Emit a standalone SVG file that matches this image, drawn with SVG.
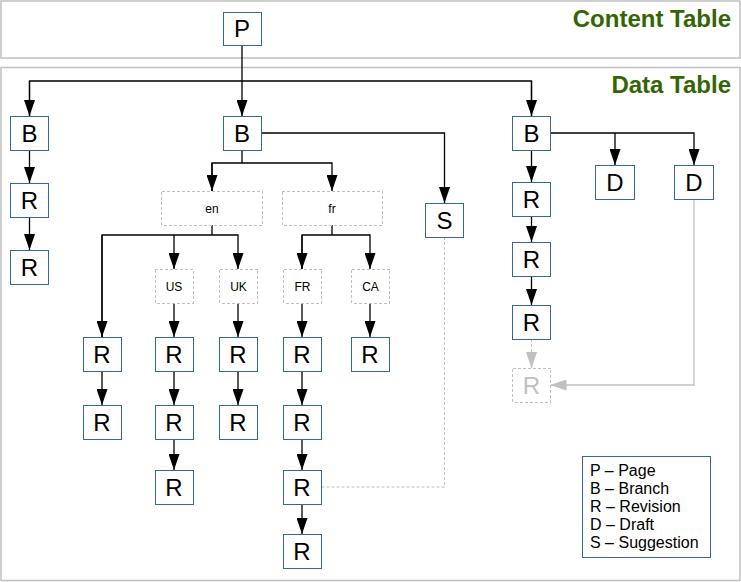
<svg xmlns="http://www.w3.org/2000/svg" width="741" height="582" viewBox="0 0 741 582">
<style>
.panel{fill:#fff;stroke:#c0c0c0;stroke-width:1.5}
.title{font-family:"Liberation Sans",Arial,sans-serif;font-weight:bold;font-size:24px;fill:#336600;text-anchor:end}
.box{fill:#fff;stroke:#3465a4;stroke-width:1;shape-rendering:crispEdges}
.ghost{fill:#fff;stroke:#c0c0c0;stroke-width:1;stroke-dasharray:3,2;shape-rendering:crispEdges}
.big{font-family:"Liberation Sans",Arial,sans-serif;font-size:24px;fill:#000;text-anchor:middle}
.small{font-family:"Liberation Sans",Arial,sans-serif;font-size:12px;fill:#000;text-anchor:middle}
.gtext{fill:#c0c0c0}
.edge{fill:none;stroke:#000;stroke-width:1.3}
.gedge{fill:none;stroke:#c0c0c0;stroke-width:1.3}
.dedge{fill:none;stroke:#c0c0c0;stroke-width:1;stroke-dasharray:3,2}
.legend{font-family:"Liberation Sans",Arial,sans-serif;font-size:16px;fill:#000}
</style>
<defs>
<marker id="arr" markerUnits="userSpaceOnUse" markerWidth="16" markerHeight="11" refX="16" refY="5.5" orient="auto"><path d="M0,0 L16,5.5 L0,11 z" fill="#000"/></marker>
<marker id="garr" markerUnits="userSpaceOnUse" markerWidth="16" markerHeight="11" refX="16" refY="5.5" orient="auto"><path d="M0,0 L16,5.5 L0,11 z" fill="#c0c0c0"/></marker>
</defs>

<g id="panels">
<rect class="panel" x="1" y="1" width="739" height="57"/>
<text class="title" x="731" y="27">Content Table</text>
<rect class="panel" x="1" y="67.5" width="739" height="513"/>
<text class="title" x="731" y="93">Data Table</text>
</g>

<g id="connectors">
<path class="edge" d="M242,45 V116" marker-end="url(#arr)"/>
<path class="edge" d="M29.5,116 V81 H531.5 V116" />
<path class="edge" d="M29.5,81 V116" marker-end="url(#arr)"/>
<path class="edge" d="M531.5,81 V116" marker-end="url(#arr)"/>
<path class="edge" d="M29.5,150 V183" marker-end="url(#arr)"/>
<path class="edge" d="M29.5,217 V250" marker-end="url(#arr)"/>
<path class="edge" d="M261,133 H444.5 V203" marker-end="url(#arr)"/>
<path class="edge" d="M242,150 V163"/>
<path class="edge" d="M212,191 V163 H332 V191" marker-end="url(#arr)"/>
<path class="edge" d="M212,163 V191" marker-end="url(#arr)"/>
<path class="edge" d="M212,225 V235"/>
<path class="edge" d="M102,337 V235 H238 V269" marker-end="url(#arr)"/>
<path class="edge" d="M102,235 V337" marker-end="url(#arr)"/>
<path class="edge" d="M174,235 V269" marker-end="url(#arr)"/>
<path class="edge" d="M332,225 V235"/>
<path class="edge" d="M302,269 V235 H370 V269" marker-end="url(#arr)"/>
<path class="edge" d="M302,235 V269" marker-end="url(#arr)"/>
<path class="edge" d="M102,371 V405" marker-end="url(#arr)"/>
<path class="edge" d="M174,303 V337" marker-end="url(#arr)"/>
<path class="edge" d="M174,371 V405" marker-end="url(#arr)"/>
<path class="edge" d="M174,439 V470" marker-end="url(#arr)"/>
<path class="edge" d="M238,303 V337" marker-end="url(#arr)"/>
<path class="edge" d="M238,371 V405" marker-end="url(#arr)"/>
<path class="edge" d="M302,303 V337" marker-end="url(#arr)"/>
<path class="edge" d="M302,371 V405" marker-end="url(#arr)"/>
<path class="edge" d="M302,439 V470" marker-end="url(#arr)"/>
<path class="edge" d="M302,504 V534" marker-end="url(#arr)"/>
<path class="edge" d="M370,303 V337" marker-end="url(#arr)"/>
<path class="dedge" d="M444.5,237 V487 H321.5"/>
<path class="edge" d="M550.5,133 H694 V165" marker-end="url(#arr)"/>
<path class="edge" d="M615,133 V165" marker-end="url(#arr)"/>
<path class="edge" d="M531.5,150 V182" marker-end="url(#arr)"/>
<path class="edge" d="M531.5,216 V242" marker-end="url(#arr)"/>
<path class="edge" d="M531.5,276 V305" marker-end="url(#arr)"/>
<path class="dedge" d="M531.5,339 V352"/>
<path class="gedge" d="M531.5,352 V368" marker-end="url(#garr)"/>
<path class="gedge" d="M694,199 V385 H550.5" marker-end="url(#garr)"/>
</g>

<g id="node-P"><rect class="box" x="223" y="12" width="38" height="33"/><text class="big" x="242" y="37">P</text></g>

<g id="node-B1"><rect class="box" x="10.5" y="116" width="38" height="34"/><text class="big" x="29.5" y="141.5">B</text></g>
<g id="node-B1-R1"><rect class="box" x="10.5" y="183" width="38" height="34"/><text class="big" x="29.5" y="208.5">R</text></g>
<g id="node-B1-R2"><rect class="box" x="10.5" y="250" width="38" height="34"/><text class="big" x="29.5" y="275.5">R</text></g>

<g id="node-B2"><rect class="box" x="223" y="116" width="38" height="34"/><text class="big" x="242" y="141.5">B</text></g>
<g id="node-S"><rect class="box" x="425.5" y="203" width="38" height="34"/><text class="big" x="444.5" y="228.5">S</text></g>
<g id="node-en"><rect class="ghost" x="161.5" y="191" width="100.5" height="34"/><text class="small" x="212" y="212.5">en</text></g>
<g id="node-fr"><rect class="ghost" x="282" y="191" width="100.5" height="34"/><text class="small" x="332" y="212.5">fr</text></g>
<g id="node-US"><rect class="ghost" x="155" y="269" width="38" height="34"/><text class="small" x="174" y="290.5">US</text></g>
<g id="node-UK"><rect class="ghost" x="219.5" y="269" width="38" height="34"/><text class="small" x="238.5" y="290.5">UK</text></g>
<g id="node-FR"><rect class="ghost" x="283.5" y="269" width="38" height="34"/><text class="small" x="302.5" y="290.5">FR</text></g>
<g id="node-CA"><rect class="ghost" x="351.5" y="269" width="38" height="34"/><text class="small" x="370.5" y="290.5">CA</text></g>

<g id="node-en-R1"><rect class="box" x="83" y="337" width="38" height="34"/><text class="big" x="102" y="362.5">R</text></g>
<g id="node-en-R2"><rect class="box" x="83" y="405" width="38" height="34"/><text class="big" x="102" y="430.5">R</text></g>
<g id="node-US-R1"><rect class="box" x="155" y="337" width="38" height="34"/><text class="big" x="174" y="362.5">R</text></g>
<g id="node-US-R2"><rect class="box" x="155" y="405" width="38" height="34"/><text class="big" x="174" y="430.5">R</text></g>
<g id="node-US-R3"><rect class="box" x="155" y="470" width="38" height="34"/><text class="big" x="174" y="495.5">R</text></g>
<g id="node-UK-R1"><rect class="box" x="219" y="337" width="38" height="34"/><text class="big" x="238" y="362.5">R</text></g>
<g id="node-UK-R2"><rect class="box" x="219" y="405" width="38" height="34"/><text class="big" x="238" y="430.5">R</text></g>
<g id="node-FR-R1"><rect class="box" x="283" y="337" width="38" height="34"/><text class="big" x="302" y="362.5">R</text></g>
<g id="node-FR-R2"><rect class="box" x="283" y="405" width="38" height="34"/><text class="big" x="302" y="430.5">R</text></g>
<g id="node-FR-R3"><rect class="box" x="283" y="470" width="38" height="34"/><text class="big" x="302" y="495.5">R</text></g>
<g id="node-FR-R4"><rect class="box" x="283" y="534" width="38" height="34"/><text class="big" x="302" y="559.5">R</text></g>
<g id="node-CA-R1"><rect class="box" x="351" y="337" width="38" height="34"/><text class="big" x="370" y="362.5">R</text></g>

<g id="node-B3"><rect class="box" x="512.5" y="116" width="38" height="34"/><text class="big" x="531.5" y="141.5">B</text></g>
<g id="node-D1"><rect class="box" x="595.5" y="165" width="39" height="34"/><text class="big" x="615" y="190.5">D</text></g>
<g id="node-D2"><rect class="box" x="674.5" y="165" width="39" height="34"/><text class="big" x="694" y="190.5">D</text></g>
<g id="node-B3-R1"><rect class="box" x="512.5" y="182" width="38" height="34"/><text class="big" x="531.5" y="207.5">R</text></g>
<g id="node-B3-R2"><rect class="box" x="512.5" y="242" width="38" height="34"/><text class="big" x="531.5" y="267.5">R</text></g>
<g id="node-B3-R3"><rect class="box" x="512.5" y="305" width="38" height="34"/><text class="big" x="531.5" y="330.5">R</text></g>
<g id="node-B3-R4"><rect class="ghost" x="512.5" y="368" width="38" height="34"/><text class="big gtext" x="531.5" y="393.5">R</text></g>

<g id="legend">
<rect class="box" x="582" y="456.5" width="128" height="101"/>
<text class="legend" x="590" y="476">P – Page</text>
<text class="legend" x="590" y="494">B – Branch</text>
<text class="legend" x="590" y="512">R – Revision</text>
<text class="legend" x="590" y="530">D – Draft</text>
<text class="legend" x="590" y="548">S – Suggestion</text>
</g>
</svg>
